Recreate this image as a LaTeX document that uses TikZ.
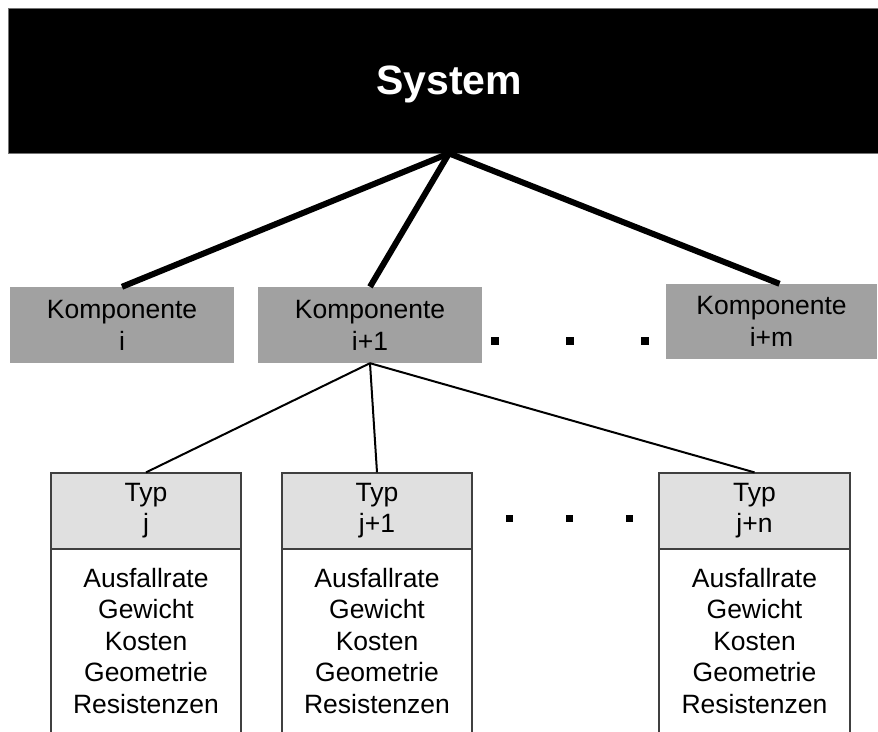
\documentclass[tikz,border=0pt]{standalone}
\usepackage{fontspec}
\setmainfont{Liberation Sans}
\begin{document}
\begin{tikzpicture}[x=1pt,y=1pt,
  sysbox/.style={fill=black, draw=black!55, line width=0.8pt, minimum width=882pt, minimum height=145pt, inner sep=0pt},
  systext/.style={text=white, inner sep=0pt, anchor=base, font=\fontsize{41}{48}\selectfont\bfseries},
  compbox/.style={fill=black!37, inner sep=0pt, align=center, font=\fontsize{26.5}{32}\selectfont, minimum height=76pt},
  typhead/.style={fill=black!12, draw=black!75, line width=1.2pt, inner sep=0pt, align=center, font=\fontsize{26.5}{31}\selectfont, minimum width=190pt, minimum height=76pt},
  typbody/.style={fill=white, draw=black!75, line width=1.2pt, inner sep=0pt, minimum width=190pt, minimum height=200pt, anchor=north},
  attrs/.style={inner sep=0pt, align=center, font=\fontsize{26.5}{31.5}\selectfont, anchor=north},
  syslink/.style={line width=6pt},
  complink/.style={line width=2pt},
  dotmark/.style={fill=black, inner sep=0pt, minimum size=#1},
  dotmark/.default=8pt
]
\useasboundingbox (0,0) rectangle (878,731);
\clip (0,0) rectangle (878,731);

% top level
\node[sysbox] (sys) at (449,650.5) {};
\node[systext] (systitle) at (449,636) {System};

% components
\node[compbox, minimum width=224pt] (k1) at (122,406) {Komponente\\i};
\node[compbox, minimum width=224pt] (k2) at (370,406) {Komponente\\i+1};
\node[compbox, minimum width=211pt, minimum height=75pt] (km) at (771.5,409.5) {Komponente\\i+m};

\node[dotmark] (d1) at (495,390) {};
\node[dotmark] (d2) at (570,390) {};
\node[dotmark] (d3) at (645,390) {};

% type bodies (open at the bottom edge), then their headers
\node[typbody] (bj) at (146,182) {};
\node[typbody] (bj1) at (377,182) {};
\node[typbody, minimum width=191pt] (bjn) at (754.5,182) {};

\node[typhead] (tj) at (146,220) {Typ\\j};
\node[typhead] (tj1) at (377,220) {Typ\\j+1};
\node[typhead, minimum width=191pt] (tjn) at (754.5,220) {Typ\\j+n};

\node[attrs] (aj) at (146,163) {Ausfallrate\\Gewicht\\Kosten\\Geometrie\\Resistenzen};
\node[attrs] (aj1) at (377,163) {Ausfallrate\\Gewicht\\Kosten\\Geometrie\\Resistenzen};
\node[attrs] (ajn) at (754.5,163) {Ausfallrate\\Gewicht\\Kosten\\Geometrie\\Resistenzen};

\node[dotmark=7pt] (d4) at (509,212) {};
\node[dotmark=7pt] (d5) at (569,212) {};
\node[dotmark=7pt] (d6) at (629,212) {};

% connectors
\draw[syslink] (sys.south) -- (k1.north);
\draw[syslink] (sys.south) -- (k2.north);
\draw[syslink] (sys.south) -- ([xshift=8pt]km.north);

\draw[complink] (k2.south) -- (tj.north);
\draw[complink] (k2.south) -- (tj1.north);
\draw[complink] (k2.south) -- (tjn.north);
\end{tikzpicture}
\end{document}
